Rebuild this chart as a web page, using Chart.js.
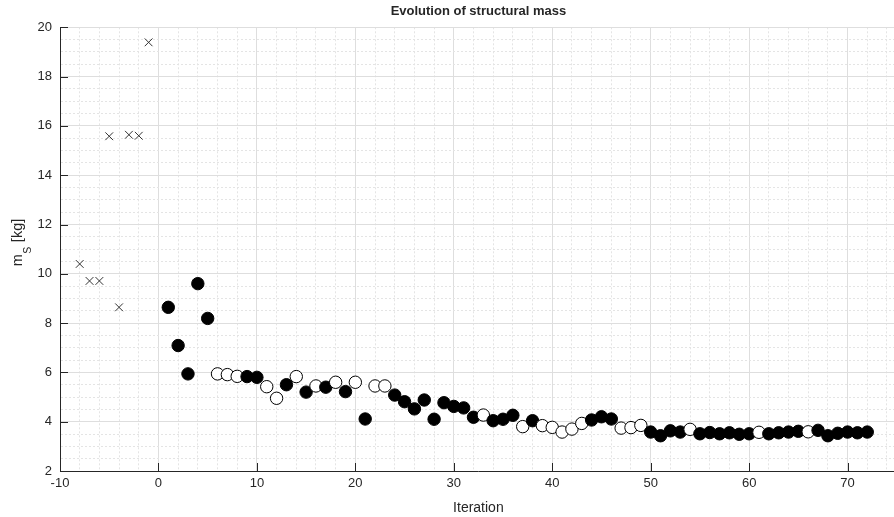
<!DOCTYPE html>
<html><head><meta charset="utf-8">
<script src="https://cdn.jsdelivr.net/npm/chart.js@4.4.0/dist/chart.umd.min.js"></script>
<style>html,body{margin:0;padding:0;overflow:hidden;background:#fff}</style>
</head><body>
<canvas id="c" width="904" height="517"></canvas>
<script>
// Initial (infeasible / sampling) designs, drawn as crosses
const initialIterations = [-8, -7, -6, -5, -4, -3, -2, -1];
const initialMass = [10.4, 9.71, 9.71, 15.58, 8.64, 15.64, 15.6, 19.39];

// Optimisation iterations
const iterations = [1,2,3,4,5,6,7,8,9,10,11,12,13,14,15,16,17,18,19,20,21,22,23,24,25,26,27,28,29,30,31,32,33,34,35,36,37,38,39,40,41,42,43,44,45,46,47,48,49,50,51,52,53,54,55,56,57,58,59,60,61,62,63,64,65,66,67,68,69,70,71,72];
const mass = [8.64,7.09,5.94,9.60,8.19,5.94,5.91,5.84,5.83,5.80,5.42,4.95,5.50,5.83,5.20,5.45,5.40,5.60,5.22,5.60,4.11,5.45,5.45,5.08,4.81,4.52,4.88,4.10,4.77,4.62,4.56,4.18,4.27,4.04,4.10,4.26,3.80,4.04,3.84,3.77,3.58,3.70,3.93,4.07,4.20,4.11,3.74,3.76,3.85,3.58,3.43,3.63,3.58,3.69,3.51,3.56,3.51,3.55,3.49,3.51,3.57,3.51,3.55,3.58,3.61,3.59,3.65,3.43,3.53,3.58,3.55,3.58];
// 1 = filled marker, 0 = open marker
const filled = [1,1,1,1,1,0,0,0,1,1,0,0,1,0,1,0,1,0,1,0,1,0,0,1,1,1,1,1,1,1,1,1,0,1,1,1,0,1,0,0,0,0,0,1,1,1,0,0,0,1,1,1,1,0,1,1,1,1,1,1,0,1,1,1,1,0,1,1,1,1,1,1];

// Axis ticks
const xMajorTicks = [-10, 0, 10, 20, 30, 40, 50, 60, 70];
const yMajorTicks = [2, 4, 6, 8, 10, 12, 14, 16, 18, 20];
const xMinorStep = 2;
const yMinorStep = 0.5;

const TXT = '#262626';
const FONT = 'Liberation Sans, Arial, Helvetica, sans-serif';
const MAJOR_GRID = '#dedede';
const MINOR_GRID = '#e4e4e4';

function isMajor(v, list) { return list.some(m => Math.abs(m - v) < 1e-9); }
function buildTicks(min, max, step) {
  const out = [];
  for (let i = 0; min + i * step <= max + 1e-9; i++) out.push({ value: +(min + i * step).toFixed(6) });
  return out;
}

const mainData = iterations.map((it, i) => ({ x: it, y: mass[i] }));
const initData = initialIterations.map((it, i) => ({ x: it, y: initialMass[i] }));

const inwardTicks = {
  id: 'inwardTicks',
  afterDraw(chart) {
    const { ctx, chartArea: a, scales: { x, y } } = chart;
    ctx.save();
    ctx.strokeStyle = TXT;
    ctx.lineWidth = 1;
    ctx.beginPath();
    xMajorTicks.forEach(v => {
      const px = Math.round(x.getPixelForValue(v)) + 0.5;
      ctx.moveTo(px, a.bottom); ctx.lineTo(px, a.bottom - 8);
    });
    yMajorTicks.forEach(v => {
      const py = Math.round(y.getPixelForValue(v)) + 0.5;
      ctx.moveTo(a.left, py); ctx.lineTo(a.left + 8, py);
    });
    ctx.stroke();
    // y-axis title with subscript
    const main = '14.5px ' + FONT, sub = '10.5px ' + FONT;
    ctx.fillStyle = TXT;
    ctx.font = main; const wm = ctx.measureText('m').width; const wk = ctx.measureText(' [kg]').width;
    ctx.font = sub; const ws = ctx.measureText('S').width;
    const W = wm + ws + wk;
    ctx.translate(21.5, 243);
    ctx.rotate(-Math.PI / 2);
    ctx.textBaseline = 'alphabetic';
    ctx.textAlign = 'left';
    ctx.font = main; ctx.fillText('m', -W / 2, 0);
    ctx.font = sub; ctx.fillText('S', -W / 2 + wm + 0.5, 9);
    ctx.font = main; ctx.fillText(' [kg]', -W / 2 + wm + ws + 1, 0);
    ctx.restore();
  }
};

new Chart(document.getElementById('c'), {
  type: 'scatter',
  data: {
    datasets: [
      {
        data: initData,
        pointStyle: 'crossRot',
        pointRadius: 5.5,
        pointBorderWidth: 1,
        pointBorderColor: '#333333',
        pointBackgroundColor: '#333333'
      },
      {
        data: mainData,
        pointStyle: 'circle',
        pointRadius: 6.2,
        pointBorderWidth: 1,
        pointBorderColor: '#000000',
        pointBackgroundColor: filled.map(f => f ? '#000000' : '#ffffff')
      }
    ]
  },
  options: {
    responsive: false,
    animation: false,
    layout: { padding: 0 },
    plugins: {
      legend: { display: false },
      tooltip: { enabled: false },
      title: {
        display: true,
        text: 'Evolution of structural mass',
        color: TXT,
        fullSize: false,
        font: { family: FONT, size: 13, weight: 'bold' },
        padding: { top: 4, bottom: 7.7 }
      }
    },
    scales: {
      x: {
        type: 'linear', min: -10, max: 75,
        afterBuildTicks: s => { s.ticks = buildTicks(-10, 74, xMinorStep); },
        afterFit: s => { s.height = 46; },
        ticks: {
          autoSkip: false, maxRotation: 0, padding: 5, color: TXT,
          font: { family: FONT, size: 13 },
          callback: v => isMajor(v, xMajorTicks) ? String(v) : ''
        },
        grid: {
          drawTicks: false, lineWidth: 1,
          color: c => (c.tick && isMajor(c.tick.value, xMajorTicks)) ? MAJOR_GRID : MINOR_GRID
        },
        border: {
          display: true, color: TXT, width: 1,
          dash: c => (c.tick && !isMajor(c.tick.value, xMajorTicks)) ? [2, 2] : []
        },
        title: {
          display: true, text: 'Iteration', color: TXT,
          font: { family: FONT, size: 14 }, padding: { top: 2, bottom: 0.5 }
        }
      },
      y: {
        type: 'linear', min: 2, max: 20,
        afterBuildTicks: s => { s.ticks = buildTicks(2, 20, yMinorStep); },
        afterFit: s => { s.width = 60; },
        ticks: {
          autoSkip: false, padding: 8, color: TXT,
          font: { family: FONT, size: 13 },
          callback: v => isMajor(v, yMajorTicks) ? String(v) : ''
        },
        grid: {
          drawTicks: false, lineWidth: 1,
          color: c => (c.tick && isMajor(c.tick.value, yMajorTicks)) ? MAJOR_GRID : MINOR_GRID
        },
        border: {
          display: true, color: TXT, width: 1,
          dash: c => (c.tick && !isMajor(c.tick.value, yMajorTicks)) ? [2, 2] : []
        },
        title: { display: false }
      }
    }
  },
  plugins: [inwardTicks]
});
</script>
</body></html>
